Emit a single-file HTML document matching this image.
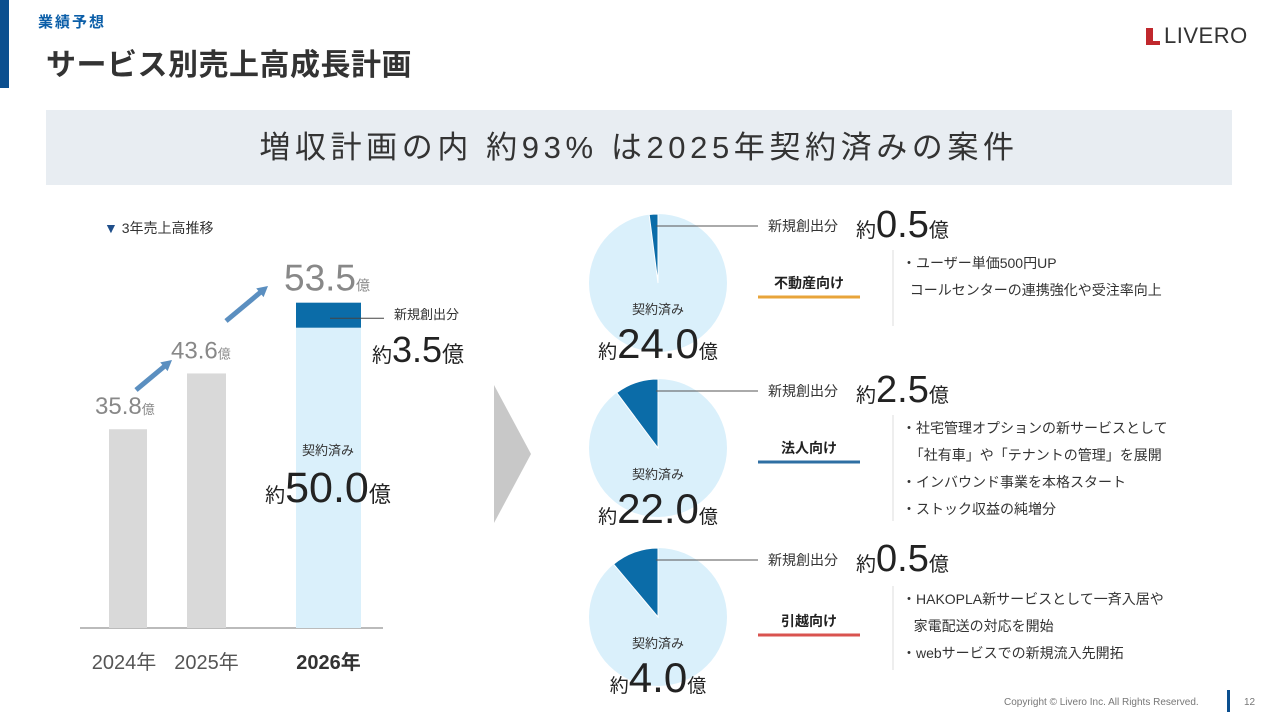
<!DOCTYPE html>
<html><head><meta charset="utf-8"><style>
body{margin:0;width:1280px;height:720px;background:#fff;overflow:hidden;position:relative;font-family:"Liberation Sans","Noto Sans CJK JP",sans-serif;color:#333}
.a{position:absolute;white-space:nowrap}
svg{position:absolute;left:0;top:0}
</style></head><body>
<div class="a" style="left:0;top:0;width:9px;height:88px;background:#0b4f8f"></div>
<div class="a" style="left:38px;top:11px;font-size:15px;font-weight:bold;color:#0b5ea8;letter-spacing:2px">業績予想</div>
<div class="a" style="left:46px;top:40px;font-size:30px;font-weight:bold;color:#333;letter-spacing:0.5px">サービス別売上高成長計画</div>
<div class="a" style="left:1146px;top:23px;font-size:22px;color:#333;letter-spacing:0.5px"><span style="display:inline-block;width:14px;height:17px;border-left:7px solid #c0282d;border-bottom:4px solid #c0282d;box-sizing:border-box;vertical-align:-2px;margin-right:4px"></span>LIVERO</div>
<div class="a" style="left:46px;top:110px;width:1186px;height:75px;background:#e8edf2;text-align:center;line-height:75px;font-size:31px;letter-spacing:4.6px;color:#333">増収計画の内 約93% は2025年契約済みの案件</div>
<div class="a" style="left:104px;top:218px;font-size:14px"><span style="color:#1f4f8a">▼</span> 3年売上高推移</div>

<svg id="chart" width="1280" height="720"></svg>

<div class="a" style="left:1004px;top:697px;font-size:10px;color:#777">Copyright © Livero Inc. All Rights Reserved.</div>
<div class="a" style="left:1227px;top:690px;width:3px;height:22px;background:#0b4f8f"></div>
<div class="a" style="left:1244px;top:697px;font-size:10px;color:#777">12</div>

<script>
const years=["2024年","2025年","2026年"];
const totals=[35.8,43.6,53.5];
const contracted2026=50.0;
const newBiz2026=3.5;
const segNames=["不動産向け","法人向け","引越向け"];
const segContracted=[24.0,22.0,4.0];
const segNew=[0.5,2.5,0.5];
const segColors=["#e8a43a","#2f6fa3","#d9534f"];
const segBullets=[["・ユーザー単価500円UP","  コールセンターの連携強化や受注率向上"],["・社宅管理オプションの新サービスとして","  「社有車」や「テナントの管理」を展開","・インバウンド事業を本格スタート","・ストック収益の純増分"],["・HAKOPLA新サービスとして一斉入居や","   家電配送の対応を開始","・webサービスでの新規流入先開拓"]];

const NS="http://www.w3.org/2000/svg";
const svg=document.getElementById('chart');
function mk(t,a,p){const e=document.createElementNS(NS,t);for(const k in a)e.setAttribute(k,a[k]);(p||svg).appendChild(e);return e;}
function txt(x,y,s,size,fill,anchor,weight){const e=mk('text',{x:x,y:y,'font-size':size,fill:fill,'text-anchor':anchor||'start','font-weight':weight||'normal'});e.textContent=s;return e;}
const base=628;
const y=v=>base-(v-8)*7.15;
const h=v=>v*7.15;
const barX=[109,187,296], barW=[38,39,65];
const ax=mk('line',{x1:80,y1:base,x2:383,y2:base,stroke:'#bbb','stroke-width':2});


for(let i=0;i<3;i++){
  if(i<2){
    const b=mk('rect',{x:barX[i],y:y(totals[i]),width:barW[i],height:base-y(totals[i]),fill:'#d9d9d9'});
    
    
    const l=txt(barX[i]-14+(i?-2:0),y(totals[i])-15,'',24,'#888');
    l.innerHTML=totals[i].toFixed(1)+'<tspan font-size="13">億</tspan>';
    
    
  }else{
    const top=y(totals[i]);
    const c=mk('rect',{x:barX[i],y:top+h(newBiz2026),width:barW[i],height:base-top-h(newBiz2026),fill:'#daf0fb'});
    
    
    const n=mk('rect',{x:barX[i],y:top,width:barW[i],height:h(newBiz2026),fill:'#0b6ca8'});
    
    
    const l=txt(284,top-12,'',37,'#888');
    l.innerHTML=totals[i].toFixed(1)+'<tspan font-size="14">億</tspan>';
    
    
    mk('line',{x1:330,y1:top+h(newBiz2026)/2+3,x2:384,y2:top+h(newBiz2026)/2+3,stroke:'#444','stroke-width':1});
    txt(394,319,'新規創出分',13,'#333');
    const v=txt(372,362,'',36,'#222');v.innerHTML='<tspan font-size="20">約</tspan>'+newBiz2026.toFixed(1)+'<tspan font-size="22">億</tspan>';
    txt(328,455,'契約済み',13,'#333','middle');
    const w=txt(328,502,'',43,'#222','middle');w.innerHTML='<tspan font-size="20">約</tspan>'+contracted2026.toFixed(1)+'<tspan font-size="22">億</tspan>';
  }
  const t=txt(barX[i]+barW[i]/2+(i==0?-4:0),669,years[i],20,i==2?'#333':'#555','middle',i==2?'bold':'normal');
  
  
}
function arrow(x1,y1,x2,y2){
  mk('line',{x1:x1,y1:y1,x2:x2-6,y2:y2+5,stroke:'#5b8fc0','stroke-width':5});
  const ang=Math.atan2(y2-y1,x2-x1),s=12;
  mk('polygon',{points:[x2,y2,x2-s*Math.cos(ang-0.5),y2-s*Math.sin(ang-0.5),x2-s*Math.cos(ang+0.5),y2-s*Math.sin(ang+0.5)].join(' '),fill:'#5b8fc0'});
}
arrow(136,390,172,360);
arrow(226,321,268,286);
mk('polygon',{points:'494,385 531,454 494,523',fill:'#c8c8c8'});
const cy=[283,448,617], cx=658, r=69;
for(let i=0;i<3;i++){
  const g=mk('g',{});
  
  
  mk('circle',{cx:cx,cy:cy[i],r:r,fill:'#daf0fb'},g);
  const frac=segNew[i]/(segNew[i]+segContracted[i]);
  const a=frac*2*Math.PI;
  const ex=cx-r*Math.sin(a), ey=cy[i]-r*Math.cos(a);
  const s=mk('path',{d:`M${cx},${cy[i]} L${cx},${cy[i]-r} A${r},${r} 0 ${a>Math.PI?1:0} 0 ${ex},${ey} Z`,fill:'#0b6ca8',stroke:'#fff','stroke-width':1},g);
  
  
  mk('line',{x1:cx-2,y1:cy[i]-57,x2:758,y2:cy[i]-57,stroke:'#555','stroke-width':1});
  txt(cx,cy[i]+31,'契約済み',13,'#333','middle');
  const v=txt(cx,cy[i]+75,'',42,'#222','middle');v.innerHTML='<tspan font-size="19">約</tspan>'+segContracted[i].toFixed(1)+'<tspan font-size="19">億</tspan>';
  txt(768,cy[i]-52,'新規創出分',14,'#333');
  const n=txt(856,cy[i]-46,'',38,'#222');n.innerHTML='<tspan font-size="20">約</tspan>'+segNew[i].toFixed(1)+'<tspan font-size="20">億</tspan>';
  const ly=[288,453,626][i];
  txt(809,ly,segNames[i],14,'#222','middle','bold');
  const ul=mk('line',{x1:758,y1:ly+9,x2:860,y2:ly+9,stroke:segColors[i],'stroke-width':3});
  
  
  const by=[260,425,596][i];
  mk('line',{x1:893,y1:by-10,x2:893,y2:by-10+([76,106,84][i]),stroke:'#ddd','stroke-width':1});
  segBullets[i].forEach((s,k)=>{txt(902,by+8+k*27,s.replace(/ /g,'\u00a0'),14,'#333');});
}
</script>
</body></html>
